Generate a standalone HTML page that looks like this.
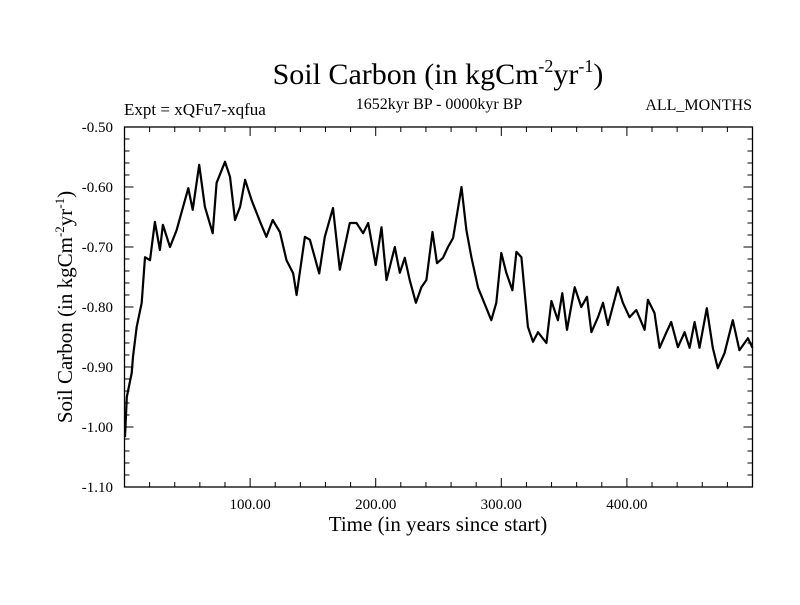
<!DOCTYPE html>
<html><head><meta charset="utf-8"><style>
body{margin:0;background:#fff;}
svg text{font-family:"Liberation Serif",serif;fill:#000;}
</style></head><body>
<svg id="chart" width="800" height="600" xmlns="http://www.w3.org/2000/svg">
<rect width="800" height="600" fill="#fff"/>
<text x="438" y="84" font-size="30" text-anchor="middle">Soil Carbon (in kgCm<tspan font-size="18" dy="-12">-2</tspan><tspan dy="12">yr</tspan><tspan font-size="18" dy="-12">-1</tspan><tspan dy="12">)</tspan></text>
<text x="124" y="115" font-size="17">Expt = xQFu7-xqfua</text>
<text x="439" y="109" font-size="16" text-anchor="middle">1652kyr BP - 0000kyr BP</text>
<text x="752" y="110" font-size="16" text-anchor="end">ALL_MONTHS</text>
<text x="438" y="531" font-size="21" text-anchor="middle">Time (in years since start)</text>
<text transform="translate(72,307) rotate(-90)" font-size="21" text-anchor="middle">Soil Carbon (in kgCm<tspan font-size="13" dy="-8">-2</tspan><tspan dy="8">yr</tspan><tspan font-size="13" dy="-8">-1</tspan><tspan dy="8">)</tspan></text>
<g id="axes"></g>
<path id="series" fill="none" stroke="#000" stroke-width="2.2" stroke-linejoin="round"/>
</svg>
<script>
const times=[0.4,1.8,5.7,6.8,9.7,13.7,16.3,20.3,24.2,28.2,30.6,36.2,41.5,45.5,50.8,54.3,59.5,64,70.2,73.3,80,84,88,92,96,101.2,108,113,118,123.7,129,134.3,137,143.6,147.6,155,159.5,166,171.4,179.4,184.7,190,194,200,204.6,208.6,215.2,219.2,223.2,227.1,232,236.4,240.4,245.2,248.8,253.6,257.6,261.6,268.3,272.2,276.2,281.5,285.4,292,296,300,304,308.8,312,316,321.2,325.2,329.2,335.9,339.9,345.1,348.6,352.3,358.4,363.7,368.2,371.7,377,381,384.9,392.8,396.8,402.1,407.5,414.1,416.7,422,426,431.3,435.3,440.6,445.9,449.9,453.9,457.8,463.6,468.4,472.4,477.7,484.3,489.6,496.3,500];
const values=[-1.017,-0.95,-0.91,-0.883,-0.833,-0.793,-0.717,-0.722,-0.658,-0.705,-0.663,-0.70,-0.672,-0.642,-0.602,-0.638,-0.563,-0.633,-0.677,-0.593,-0.558,-0.583,-0.655,-0.633,-0.588,-0.622,-0.658,-0.683,-0.655,-0.675,-0.722,-0.744,-0.78,-0.683,-0.688,-0.744,-0.683,-0.635,-0.738,-0.66,-0.66,-0.677,-0.66,-0.73,-0.667,-0.755,-0.70,-0.743,-0.718,-0.755,-0.793,-0.767,-0.755,-0.675,-0.727,-0.718,-0.70,-0.685,-0.60,-0.672,-0.717,-0.768,-0.788,-0.822,-0.793,-0.71,-0.743,-0.772,-0.708,-0.717,-0.833,-0.858,-0.842,-0.86,-0.79,-0.822,-0.777,-0.838,-0.767,-0.80,-0.783,-0.842,-0.817,-0.793,-0.83,-0.767,-0.793,-0.817,-0.805,-0.838,-0.788,-0.81,-0.868,-0.843,-0.825,-0.867,-0.842,-0.868,-0.825,-0.868,-0.802,-0.868,-0.902,-0.877,-0.822,-0.872,-0.852,-0.868];
const yTicks=[-0.5,-0.6,-0.7,-0.8,-0.9,-1.0,-1.1];
const yTickLabels=["-0.50","-0.60","-0.70","-0.80","-0.90","-1.00","-1.10"];
const xTicks=[100,200,300,400];
const xTickLabels=["100.00","200.00","300.00","400.00"];
const L=124.5,R=752.5,T=127,B=487,X0=0,X1=500,Y0=-1.1,Y1=-0.5;
const sx=t=>L+(t-X0)/(X1-X0)*(R-L);
const sy=v=>B-(v-Y0)/(Y1-Y0)*(B-T);
const NS="http://www.w3.org/2000/svg";
const ax=document.getElementById('axes');
function mk(tag,attrs){const e=document.createElementNS(NS,tag);for(const k in attrs)e.setAttribute(k,attrs[k]);ax.appendChild(e);return e;}
const frame=mk('rect',{x:L,y:T,width:R-L,height:B-T,fill:'none',stroke:'#000','stroke-width':1.3});


for(let v=-1.1;v<=-0.499;v+=0.02){const y=sy(v);const major=Math.abs(v*10-Math.round(v*10))<0.01;const len=major?9:5;
const a=mk('line',{x1:L,x2:L+len,y1:y,y2:y,stroke:'#000','stroke-width':1});


const b=mk('line',{x1:R,x2:R-len,y1:y,y2:y,stroke:'#000','stroke-width':1});

}
for(let t=20;t<500;t+=20){const x=sx(t);const major=t%100===0;const len=major?9:5;
const a=mk('line',{x1:x,x2:x,y1:B,y2:B-len,stroke:'#000','stroke-width':1});


const b=mk('line',{x1:x,x2:x,y1:T,y2:T+len,stroke:'#000','stroke-width':1});

}
yTicks.forEach((v,i)=>{const t=mk('text',{x:113,y:sy(v)+5,'font-size':15,'text-anchor':'end'});t.textContent=yTickLabels[i];

});
xTicks.forEach((v,i)=>{const t=mk('text',{x:sx(v),y:509,'font-size':15,'text-anchor':'middle'});t.textContent=xTickLabels[i];

});
let d='';times.forEach((t,i)=>{d+=(i?'L':'M')+sx(t).toFixed(1)+' '+sy(values[i]).toFixed(1);});
document.getElementById('series').setAttribute('d',d);
</script>
</body></html>
